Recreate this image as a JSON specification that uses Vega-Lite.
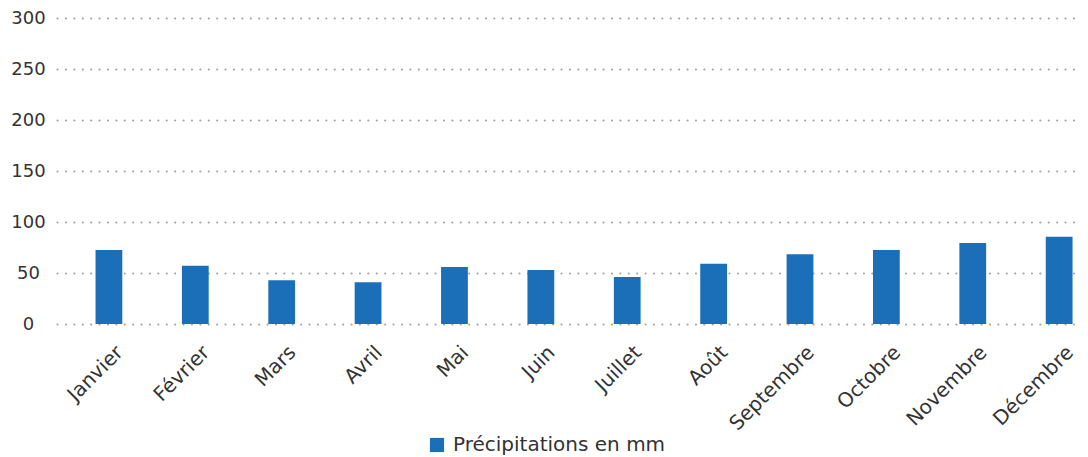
{
  "$schema": "https://vega.github.io/schema/vega-lite/v6.json",
  "width": 1024,
  "height": 306,
  "autosize": "none",
  "padding": {"left": 57, "top": 18, "right": 7, "bottom": 133},
  "background": "white",
  "data": {
    "values": [
      {"mois": "Janvier", "precip": 72.5, "serie": "Précipitations en mm"},
      {"mois": "Février", "precip": 57, "serie": "Précipitations en mm"},
      {"mois": "Mars", "precip": 43, "serie": "Précipitations en mm"},
      {"mois": "Avril", "precip": 41, "serie": "Précipitations en mm"},
      {"mois": "Mai", "precip": 56, "serie": "Précipitations en mm"},
      {"mois": "Juin", "precip": 53, "serie": "Précipitations en mm"},
      {"mois": "Juillet", "precip": 46, "serie": "Précipitations en mm"},
      {"mois": "Août", "precip": 59, "serie": "Précipitations en mm"},
      {"mois": "Septembre", "precip": 68.5, "serie": "Précipitations en mm"},
      {"mois": "Octobre", "precip": 72.5, "serie": "Précipitations en mm"},
      {"mois": "Novembre", "precip": 79.5, "serie": "Précipitations en mm"},
      {"mois": "Décembre", "precip": 85.5, "serie": "Précipitations en mm"}
    ]
  },
  "mark": {"type": "bar"},
  "encoding": {
    "x": {
      "field": "mois",
      "type": "nominal",
      "sort": null,
      "scale": {"paddingInner": 0.69, "paddingOuter": 0.272, "align": 0.82},
      "axis": {
        "title": null,
        "labelAngle": -45,
        "labelAlign": "right",
        "labelBaseline": "middle",
        "domain": false,
        "ticks": false,
        "tickSize": 0,
        "labelPadding": 25,
        "labelOffset": 11,
        "labelFont": "DejaVu Sans",
        "labelFontSize": 20,
        "labelColor": "#333333",
        "labelLimit": 0,
        "grid": false
      }
    },
    "y": {
      "field": "precip",
      "type": "quantitative",
      "scale": {"domain": [0, 300]},
      "axis": {
        "title": null,
        "values": [0, 50, 100, 150, 200, 250, 300],
        "domain": false,
        "ticks": false,
        "tickSize": 0,
        "labelAlign": "center",
        "labelPadding": 29,
        "labelFont": "DejaVu Sans",
        "labelFontSize": 18,
        "labelColor": "#333333",
        "grid": true,
        "gridColor": "#a0a0a0",
        "gridWidth": 2,
        "gridDash": [0.1, 8.3],
        "gridCap": "round"
      }
    },
    "color": {
      "field": "serie",
      "type": "nominal",
      "scale": {"range": ["#1a6fb8"]},
      "legend": {
        "title": null,
        "orient": "none",
        "legendX": 370,
        "legendY": 417,
        "symbolType": "square",
        "symbolSize": 200,
        "symbolStrokeWidth": 0,
        "labelFont": "DejaVu Sans",
        "labelFontSize": 20,
        "labelColor": "#333333",
        "labelLimit": 0,
        "labelOffset": 6
      }
    }
  },
  "config": {
    "view": {"stroke": null}
  }
}
